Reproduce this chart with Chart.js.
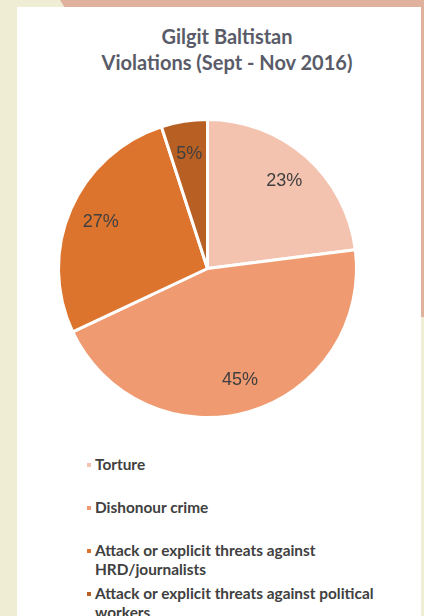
<!DOCTYPE html>
<html>
<head>
<meta charset="utf-8">
<script src="https://cdn.jsdelivr.net/npm/chart.js@4"></script>
<style>
  html, body { margin: 0; padding: 0; }
  body { width: 424px; height: 616px; background: #efeed5; position: relative; overflow: hidden; }
  #band-top { position: absolute; left: 60px; top: 0; width: 364px; height: 8px; background: #e0b29e;
              clip-path: polygon(0 0, 100% 0, 100% 100%, 5px 100%); }
  #band-right { position: absolute; left: 421px; top: 0; width: 3px; height: 317px; background: #e0b29e; }
  #card { position: absolute; left: 17px; top: 7px; width: 404px; height: 609px; background: #fff; }
  #title { position: absolute; left: 16px; top: 23px; width: 422px; text-align: center;
           font-family: Lato, sans-serif; font-weight: bold; font-size: 20px; line-height: 26px; color: #595b68; }
  #pie-wrap { position: absolute; left: 47px; top: 108px; width: 321px; height: 321px; }
  #legend { position: absolute; left: 0; top: 0; }
  .item { position: absolute; left: 95px; width: 310px; font-family: Lato, sans-serif; font-weight: bold;
          font-size: 15.4px; line-height: 19px; color: #404040; }
  .item i { position: absolute; left: -8px; top: 8px; width: 4px; height: 4px; }
</style>
</head>
<body>
<div id="band-top"></div>
<div id="band-right"></div>
<div id="card"></div>
<div id="title">Gilgit Baltistan<br>Violations (Sept - Nov 2016)</div>
<div id="pie-wrap"><canvas id="pie"></canvas></div>
<div id="legend"></div>
<script>
const labels = ['Torture', 'Dishonour crime', 'Attack or explicit threats against HRD/journalists', 'Attack or explicit threats against political workers'];
const shares = [23, 45, 27, 5];
const colors = ['#f4c3b0', '#ef9a70', '#dd742d', '#b85f23'];

const pctLabels = {
    id: 'pctLabels',
    afterDatasetsDraw(chart) {
        const c = chart.ctx;
        const arcs = chart.getDatasetMeta(0).data;
        c.save();
        c.font = '18px "Liberation Sans", Arial, sans-serif';
        c.fillStyle = '#404040';
        c.textAlign = 'center';
        c.textBaseline = 'middle';
        arcs.forEach((arc, i) => {
            const p = arc.getProps(['x', 'y', 'startAngle', 'endAngle', 'outerRadius']);
            const mid = (p.startAngle + p.endAngle) / 2;
            const r = p.outerRadius * 0.78;
            c.fillText(shares[i] + '%', p.x + Math.cos(mid) * r, p.y + Math.sin(mid) * r);
        });
        c.restore();
    }
};

new Chart(document.getElementById('pie'), {
    type: 'pie',
    data: {
        labels: labels,
        datasets: [{
            data: shares,
            backgroundColor: colors,
            borderColor: '#ffffff',
            borderWidth: 3
        }]
    },
    options: {
        responsive: true,
        maintainAspectRatio: false,
        animation: false,
        layout: { padding: 10 },
        plugins: {
            legend: { display: false },
            tooltip: { enabled: false }
        }
    },
    plugins: [pctLabels]
});

// legend, one item every 43px like the slide
const legend = document.getElementById('legend');
labels.forEach((name, i) => {
    const d = document.createElement('div');
    d.className = 'item';
    d.style.top = (455 + i * 43) + 'px';
    d.innerHTML = '<i style="background:' + colors[i] + '"></i>';
    d.appendChild(document.createTextNode(name));
    legend.appendChild(d);
});
</script>
</body>
</html>
